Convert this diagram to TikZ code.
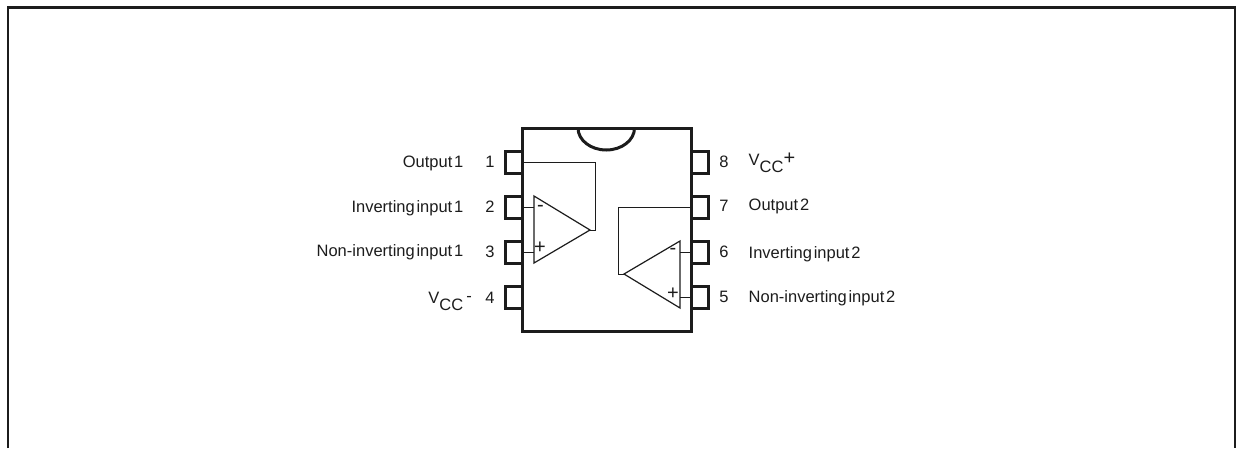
\documentclass[tikz,border=0pt]{standalone}
\usepackage{fontspec}
\setmainfont{Liberation Sans}
\newcommand{\sg}{\hspace{-0.17em}}
\newcommand{\vccneg}{V\raisebox{-7pt}{CC}\hspace{3pt}\raisebox{2pt}{-}}
\newcommand{\vccpos}{V\raisebox{-7pt}{CC}\raisebox{1pt}{\fontsize{20}{20}\selectfont +}}
\definecolor{ink}{HTML}{1c1c1c}
\tikzset{
  x=1pt,y=-1pt,
  frameline/.style={draw=ink,line width=2.8pt},
  bodybox/.style={draw=ink,line width=3pt,fill=white,minimum width=169pt,minimum height=203pt,inner sep=0pt,outer sep=0pt},
  pinbox/.style={draw=ink,line width=3pt,fill=white,minimum width=17pt,minimum height=22pt,inner sep=0pt,outer sep=0pt},
  wire/.style={draw=ink,line width=0.9pt},
  amp/.style={draw=ink,line width=1.2pt,line join=miter},
  lbl/.style={inner sep=0pt,text=ink,font=\fontsize{16.5}{18}\selectfont},
  lblL/.style={lbl,anchor=east},
  lblR/.style={lbl,anchor=west},
  num/.style={lbl,anchor=center},
  sign/.style={inner sep=0pt,text=ink,font=\fontsize{20}{20}\selectfont}
}
\begin{document}
\begin{tikzpicture}
\useasboundingbox (0,0) rectangle (1236,448);
\coordinate (fbl) at (8,448);
\coordinate (ftl) at (8,7.5);
\coordinate (ftr) at (1235,7.5);
\coordinate (fbr) at (1235,448);
\draw[frameline] (fbl) -- (ftl) -- (ftr) -- (fbr);

% pins
\node[pinbox] (p1) at (513.5,162) {};
\node[pinbox] (p2) at (513.5,207) {};
\node[pinbox] (p3) at (513.5,252) {};
\node[pinbox] (p4) at (513.5,297) {};
\node[pinbox] (p8) at (699.5,162) {};
\node[pinbox] (p7) at (699.5,207) {};
\node[pinbox] (p6) at (699.5,252) {};
\node[pinbox] (p5) at (699.5,297) {};

% package
\node[bodybox] (body) at (606.5,229.5) {};
\coordinate (nl) at (578,128);
\draw[draw=ink,line width=3pt] (nl) arc[start angle=180,end angle=360,x radius=28.25,y radius=-22];

% op-amp 1
\coordinate (a1t) at (534,196);
\coordinate (a1b) at (534,263);
\coordinate (a1o) at (590,230);
\coordinate (a1m) at (534,207);
\coordinate (a1p) at (534,252);
\coordinate (a1k) at (595,230);
\draw[amp] (a1t) -- (a1o) -- (a1b) -- cycle;
\draw[wire] (a1o) -- (a1k) |- (p1.east);
\draw[wire] (p2.east) -- (a1m);
\draw[wire] (p3.east) -- (a1p);
\node[sign] (s1m) at (540.5,208.5) {-};
\node[sign] (s1p) at (540,248) {+};

% op-amp 2
\coordinate (a2t) at (680,241);
\coordinate (a2b) at (680,308);
\coordinate (a2o) at (624,274);
\coordinate (a2m) at (680,252);
\coordinate (a2p) at (680,297);
\coordinate (a2k) at (618,274);
\draw[amp] (a2t) -- (a2o) -- (a2b) -- cycle;
\draw[wire] (a2o) -- (a2k) |- (p7.west);
\draw[wire] (a2m) -- (p6.west);
\draw[wire] (a2p) -- (p5.west);
\node[sign] (s2m) at (673,251.5) {-};
\node[sign] (s2p) at (673,294) {+};

% left labels
\node[lblL] (l1) at (463.5,163) {Output\sg\ 1};
\node[lblL] (l2) at (463.5,208.5) {Inverting\sg\ input\sg\ 1};
\node[lblL] (l3) at (463.5,252.5) {Non-inverting\sg\ input\sg\ 1};
\node[lblL,anchor=base east] (l4) at (472,303) {\vccneg};
\node[num] (n1) at (490,162) {1};
\node[num] (n2) at (490,206.5) {2};
\node[num] (n3) at (490,252) {3};
\node[num] (n4) at (490,298) {4};

% right labels
\node[num] (n8) at (724,161.5) {8};
\node[num] (n7) at (724,206) {7};
\node[num] (n6) at (724,251.5) {6};
\node[num] (n5) at (724,297) {5};
\node[lblR,anchor=base west] (l8) at (748.5,165) {\vccpos};
\node[lblR] (l7) at (748.5,206) {Output\sg\ 2};
\node[lblR] (l6) at (748.5,254) {Inverting\sg\ input\sg\ 2};
\node[lblR] (l5) at (748.5,298) {Non-inverting\sg\ input\sg\ 2};
\end{tikzpicture}
\end{document}
